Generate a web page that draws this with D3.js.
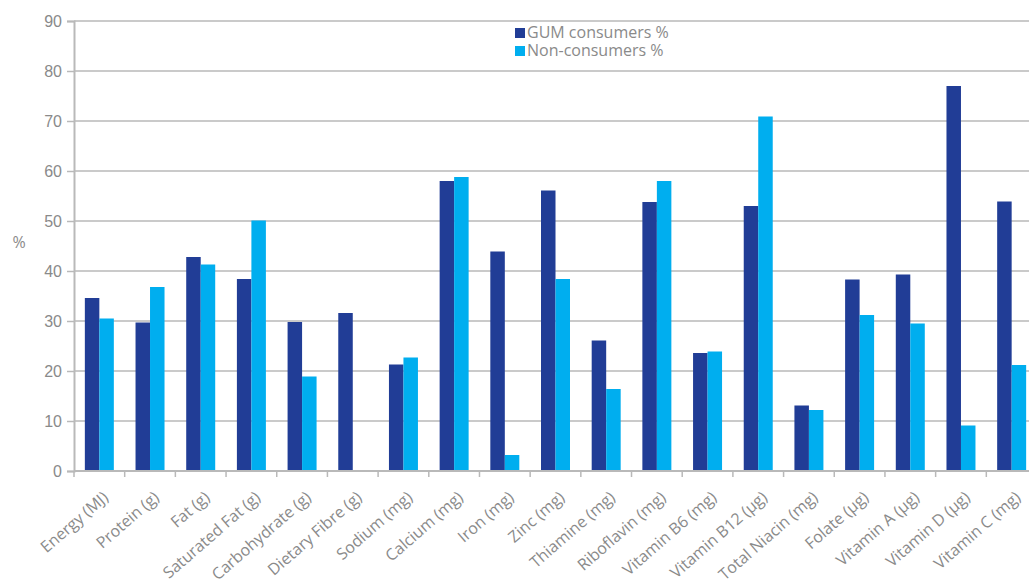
<!DOCTYPE html>
<html>
<head>
<meta charset="utf-8">
<script src="https://cdn.jsdelivr.net/npm/d3@7"></script>
<style>
  html, body { margin: 0; padding: 0; background: #fff; overflow: hidden; }
  svg { display: block; font-family: "Open Sans", "Noto Sans", sans-serif; }
</style>
</head>
<body>
<svg id="chart" width="1029" height="579"></svg>
<script>
// Nutrient categories along the x axis
const categories = [
  "Energy (MJ)", "Protein (g)", "Fat (g)", "Saturated Fat (g)", "Carbohydrate (g)",
  "Dietary Fibre (g)", "Sodium (mg)", "Calcium (mg)", "Iron (mg)", "Zinc (mg)",
  "Thiamine (mg)", "Riboflavin (mg)", "Vitamin B6 (mg)", "Vitamin B12 (µg)",
  "Total Niacin (mg)", "Folate (µg)", "Vitamin A (µg)", "Vitamin D (µg)", "Vitamin C (mg)"
];

// Series values, %
const gumConsumers = [34.6, 29.7, 42.8, 38.4, 29.8, 31.6, 21.3, 58.0, 43.9, 56.1,
                      26.1, 53.8, 23.6, 53.0, 13.1, 38.3, 39.3, 77.0, 53.9];
const nonConsumers = [30.5, 36.8, 41.3, 50.1, 18.9, 0, 22.7, 58.8, 3.2, 38.4,
                      16.4, 58.0, 23.9, 70.9, 12.2, 31.2, 29.5, 9.1, 21.2];

const seriesNames = ["GUM consumers %", "Non-consumers %"];
const seriesColors = ["#213d96", "#00aeef"];
const yTicks = [0, 10, 20, 30, 40, 50, 60, 70, 80, 90];

const svg = d3.select("#chart");
const plotLeft = 74, plotRight = 1037, plotTop = 21, plotBottom = 471;

const x0 = d3.scaleBand().domain(categories).range([plotLeft, plotRight]).padding(0);
const bw = x0.bandwidth();
const x1 = d3.scaleBand().domain([0, 1]).range([bw * 0.214, bw * 0.786]).padding(0);
const y = d3.scaleLinear().domain([0, 90]).range([plotBottom, plotTop]);

const gridColor = "#b9b9b9";
const textColor = "#8a8a8a";

// Horizontal gridlines
svg.append("g")
  .selectAll("line")
  .data(yTicks)
  .join("line")
  .attr("x1", plotLeft).attr("x2", 1029)
  .attr("y1", d => y(d)).attr("y2", d => y(d))
  .attr("stroke", gridColor).attr("stroke-width", 1.5);

// Bars
const rows = categories.map((c, i) => ({ c, v: [gumConsumers[i], nonConsumers[i]] }));
const groups = svg.append("g")
  .selectAll("g")
  .data(rows)
  .join("g")
  .attr("transform", d => `translate(${x0(d.c)},0)`);

groups.selectAll("rect")
  .data(d => d.v.map((v, k) => ({ v, k })).filter(e => e.v > 0))
  .join("rect")
  .attr("x", e => x1(e.k))
  .attr("width", x1.bandwidth())
  .attr("y", e => y(e.v))
  .attr("height", e => y(0) - y(e.v))
  .attr("fill", e => seriesColors[e.k]);

// Y axis
const yAxis = svg.append("g")
  .attr("transform", `translate(${plotLeft},0)`)
  .call(d3.axisLeft(y).tickValues(yTicks).tickSize(7).tickPadding(5));
yAxis.select(".domain").attr("stroke", gridColor).attr("stroke-width", 2);
yAxis.selectAll(".tick line").attr("stroke", gridColor).attr("stroke-width", 1.5);
yAxis.selectAll(".tick text")
  .attr("fill", textColor).attr("font-size", 16);

// X axis: baseline plus ticks at category boundaries
svg.append("line")
  .attr("x1", plotLeft).attr("x2", 1029)
  .attr("y1", plotBottom).attr("y2", plotBottom)
  .attr("stroke", gridColor).attr("stroke-width", 2);

svg.append("g")
  .selectAll("line")
  .data(categories)
  .join("line")
  .attr("x1", d => x0(d)).attr("x2", d => x0(d))
  .attr("y1", plotBottom).attr("y2", plotBottom + 6)
  .attr("stroke", gridColor).attr("stroke-width", 1.5);

svg.append("g")
  .selectAll("text")
  .data(categories)
  .join("text")
  .attr("transform", d => `translate(${x0(d) + bw / 2 + 10},${plotBottom + 28}) rotate(-41)`)
  .attr("text-anchor", "end")
  .attr("fill", textColor)
  .attr("font-size", 16)
  .text(d => d);

// Y axis title
svg.append("text")
  .attr("x", 19).attr("y", 248)
  .attr("text-anchor", "middle")
  .attr("fill", textColor)
  .attr("font-size", 16)
  .text("%");

// Legend
const legend = svg.append("g")
  .selectAll("g")
  .data(seriesNames)
  .join("g")
  .attr("transform", (d, i) => `translate(515,${28 + i * 18})`);
legend.append("rect")
  .attr("width", 10).attr("height", 10)
  .attr("fill", (d, i) => seriesColors[i]);
legend.append("text")
  .attr("x", 12).attr("y", 10)
  .attr("fill", textColor)
  .attr("font-size", 16)
  .text(d => d);
</script>
</body>
</html>
